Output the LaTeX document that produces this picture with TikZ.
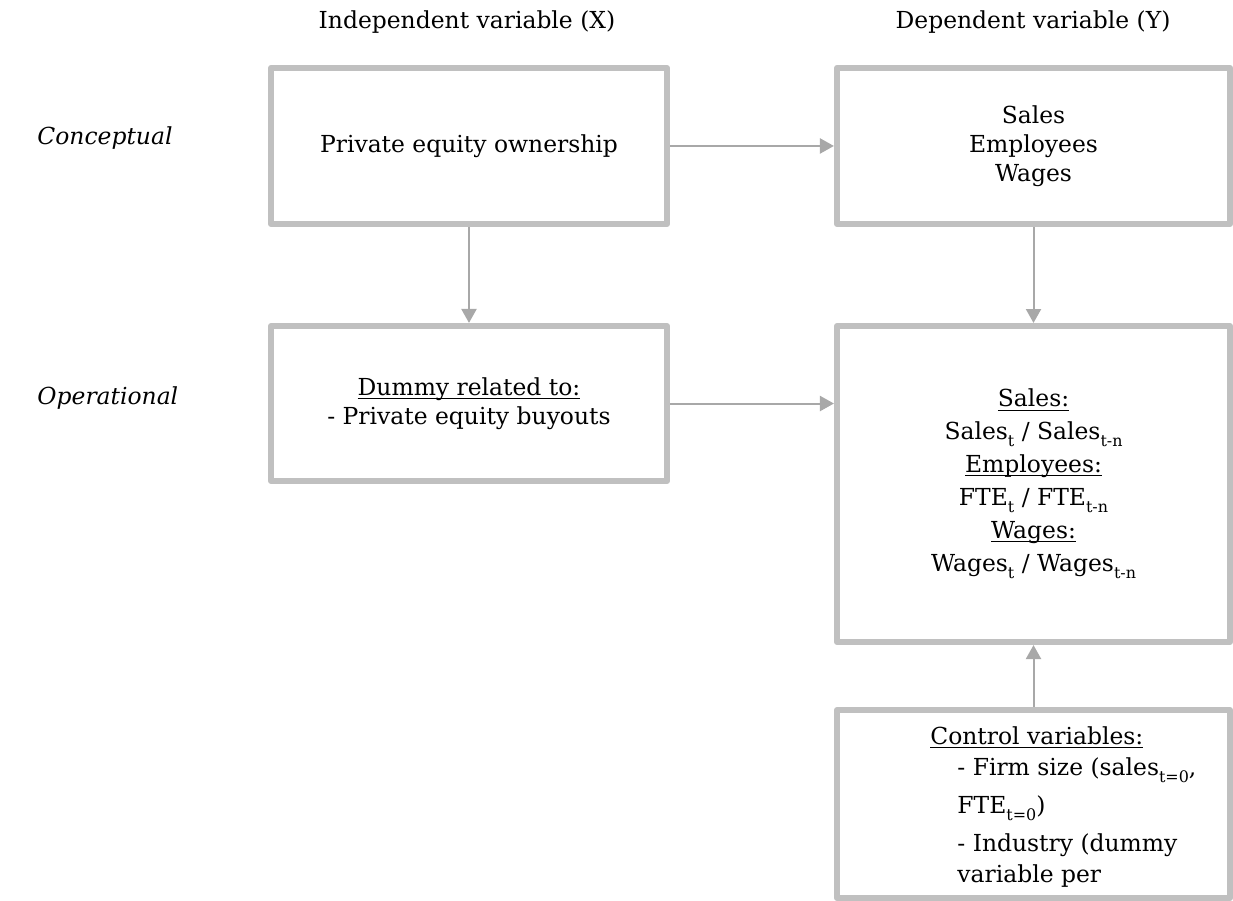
\documentclass[tikz,border=0pt]{standalone}
\usepackage{fontspec}
\setmainfont{DejaVu Serif}
\usetikzlibrary{arrows.meta}
\definecolor{boxgray}{HTML}{C0C0C0}
\definecolor{arrgray}{HTML}{A8A8A8}
\newcommand{\lowsub}[1]{\raisebox{-0.3em}{\fontsize{7.2}{8}\selectfont #1}}
\newcommand{\undl}[1]{\underline{\raisebox{0pt}[\height][0pt]{#1}}}

\begin{document}
\begin{tikzpicture}[auto, >={Triangle[length=6.3pt,width=6.8pt]}, font=\fontsize{10.6}{13.1}\selectfont]
	\tikzstyle{box} = [draw=boxgray, line width=2.8pt, rectangle, line join=round, align=center]
	\tikzstyle{head} = [align=center]
	\tikzstyle{row} = [anchor=west, inner sep=0pt, font=\fontsize{10.6}{13.1}\selectfont\itshape]

	\useasboundingbox (0,0) rectangle (19.605,-14.326);

	\node[head] 	at (7.425, -0.35)	(hx)	{Independent variable (X)};
	\node[head] 	at (16.425, -0.35)	(hy)	{Dependent variable (Y)};

	\node[row]	at (0.588, -2.194)	(rc)	{Conceptual};
	\node[row]	at (0.588, -6.328)	(ro)	{Operational};

	\node[box, minimum width=6.296cm, minimum height=2.48cm] 	at (7.457, -2.321)	(c1)	{Private equity ownership};
	\node[box, minimum width=6.249cm, minimum height=2.48cm] 	at (16.433, -2.321)	(c2)	{Sales\\Employees\\Wages};

	\node[box, minimum width=6.296cm, minimum height=2.465cm] 	at (7.457, -6.416)	(o1)	{\undl{Dummy related to:}\\- Private equity buyouts};
	\node[box, minimum width=6.249cm, minimum height=5.024cm] 	at (16.433, -7.696)	(o2)	{\undl{Sales:}\\[1.8pt]
		Sales\lowsub{t} / Sales\lowsub{t-n}\\[1.8pt]
		\undl{Employees:}\\[1.8pt]
		FTE\lowsub{t} / FTE\lowsub{t-n}\\[1.8pt]
		\undl{Wages:}\\[1.8pt]
		Wages\lowsub{t} / Wages\lowsub{t-n}};
	\node[box, minimum width=6.249cm, minimum height=2.989cm] 	at (16.433, -12.784)	(o3)	{};
	\node[anchor=north west, inner sep=0pt, align=left] 	at (15.216, -11.55)	(o3t)	{\hspace*{-0.43cm}\undl{Control variables:}\\[1pt]
		- Firm size (sales\lowsub{t=0},\\[4pt]
		FTE\lowsub{t=0})\\[4pt]
		- Industry (dummy\\[1pt]
		variable per};

	\path[->, every edge/.style={draw=arrgray, line width=0.9pt}]
	(c1)	edge	(c2)
	(c1)	edge	(o1)
	(c2)	edge	(o2)
	(o1.east)	edge	(o1.east -| o2.west)
	(o3)	edge	(o2);
\end{tikzpicture}
\end{document}
